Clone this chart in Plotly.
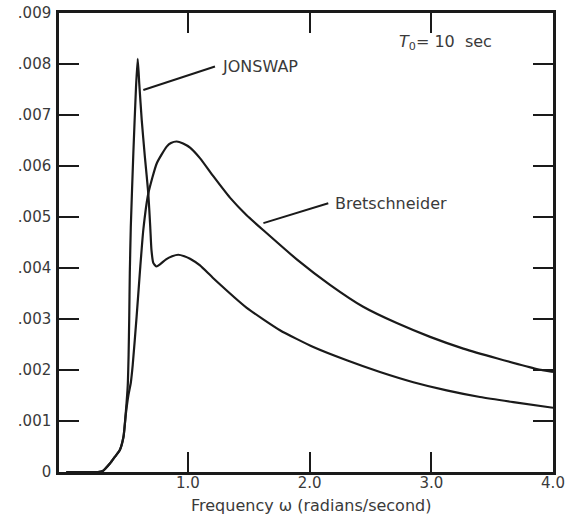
import plotly.graph_objects as go

# Frequency (rad/s) and spectral ordinates
jonswap_w = [0.0, 0.26, 0.30, 0.36, 0.40, 0.44, 0.47, 0.49, 0.505, 0.512, 0.517, 0.522,
             0.53, 0.551, 0.573, 0.587, 0.60, 0.62, 0.645, 0.674, 0.69, 0.70, 0.715,
             0.74, 0.77, 0.82, 0.87, 0.92, 0.97, 1.017, 1.099, 1.208, 1.483, 1.756,
             2.03, 2.305, 2.578, 2.852, 3.126, 3.40, 3.674, 4.0]
jonswap_s = [0.0, 0.0, 0.00002, 0.00017, 0.0003, 0.00043, 0.00069, 0.0012, 0.0017,
             0.0023, 0.0030, 0.0039, 0.0048, 0.00625, 0.00755, 0.0081, 0.0076, 0.0069,
             0.0062, 0.00546, 0.0048, 0.00435, 0.0041, 0.00403, 0.00407, 0.00417,
             0.00423, 0.00426, 0.00423, 0.00418, 0.00405, 0.0038, 0.00322, 0.00278,
             0.00245, 0.00219, 0.00196, 0.00176, 0.0016, 0.00147, 0.00137, 0.00126]

bret_w = [0.0, 0.26, 0.30, 0.36, 0.40, 0.44, 0.47, 0.49, 0.51, 0.53, 0.546, 0.578,
          0.606, 0.633, 0.674, 0.743, 0.825, 0.86, 0.907, 0.96, 1.017, 1.10, 1.208,
          1.345, 1.48, 1.62, 1.894, 2.167, 2.44, 2.716, 2.99, 3.263, 3.537, 3.866, 4.0]
bret_s = [0.0, 0.0, 0.00002, 0.00017, 0.0003, 0.00043, 0.00069, 0.00115, 0.0015,
          0.00175, 0.0021, 0.00305, 0.00396, 0.00475, 0.00546, 0.00605, 0.00638,
          0.00645, 0.00648, 0.00644, 0.00636, 0.00615, 0.0058, 0.00538, 0.00504,
          0.00474, 0.00417, 0.00367, 0.00324, 0.00292, 0.00265, 0.00242, 0.00223,
          0.00202, 0.00196]

x_tickvals = [1, 2, 3, 4]
x_ticktext = ["1.0", "2.0", "3.0", "4.0"]
y_tickvals = [0, 0.001, 0.002, 0.003, 0.004, 0.005, 0.006, 0.007, 0.008, 0.009]
y_ticktext = ["0", ".001", ".002", ".003", ".004", ".005", ".006", ".007", ".008", ".009"]

FONT = "DejaVu Sans"
TXT = "#3a3a3a"
INK = "#1a1a1a"

fig = go.Figure()
fig.add_trace(go.Scatter(x=jonswap_w, y=jonswap_s, mode="lines", name="JONSWAP",
                         line=dict(color=INK, width=2.2, shape="spline", smoothing=0.5)))
fig.add_trace(go.Scatter(x=bret_w, y=bret_s, mode="lines", name="Bretschneider",
                         line=dict(color=INK, width=2.2, shape="spline", smoothing=0.5)))

# leader lines
fig.add_shape(type="line", x0=0.633, y0=0.00749, x1=1.222, y1=0.00795,
              line=dict(color=INK, width=2))
fig.add_shape(type="line", x0=1.62, y0=0.00488, x1=2.153, y1=0.00527,
              line=dict(color=INK, width=2))

fig.add_annotation(x=1.26, y=0.00795, text="JONSWAP", showarrow=False,
                   xanchor="left", yanchor="middle",
                   font=dict(family=FONT, size=16, color=TXT))
fig.add_annotation(x=2.19, y=0.00527, text="Bretschneider", showarrow=False,
                   xanchor="left", yanchor="middle",
                   font=dict(family=FONT, size=16, color=TXT))
fig.add_annotation(x=2.72, y=0.00842, text="<i>T</i><sub>0</sub>= 10  sec", showarrow=False,
                   xanchor="left", yanchor="middle",
                   font=dict(family=FONT, size=16, color=TXT))
fig.add_annotation(xref="paper", yref="paper", x=0.51, y=-0.072,
                   text="Frequency ω (radians/second)", showarrow=False,
                   xanchor="center", yanchor="middle",
                   font=dict(family=FONT, size=16, color=TXT))

fig.update_xaxes(range=[-0.06, 4.0], tickvals=x_tickvals, ticktext=x_ticktext,
                 automargin=False, ticklabelstandoff=-5,
                 showgrid=False, zeroline=False, showline=True, linecolor=INK, linewidth=2.5,
                 mirror="ticks", ticks="inside", ticklen=20, tickwidth=2, tickcolor=INK,
                 tickfont=dict(family=FONT, size=15, color=TXT))
fig.update_yaxes(range=[0, 0.009], tickvals=y_tickvals, ticktext=y_ticktext,
                 automargin=False, ticklabelstandoff=2,
                 showgrid=False, zeroline=False, showline=True, linecolor=INK, linewidth=2.5,
                 mirror="ticks", ticks="inside", ticklen=20, tickwidth=2, tickcolor=INK,
                 tickfont=dict(family=FONT, size=15, color=TXT))

fig.update_layout(width=565, height=516, showlegend=False,
                  margin=dict(l=59, r=12, t=13, b=44),
                  plot_bgcolor="white", paper_bgcolor="white")

fig.write_html("out.html")
